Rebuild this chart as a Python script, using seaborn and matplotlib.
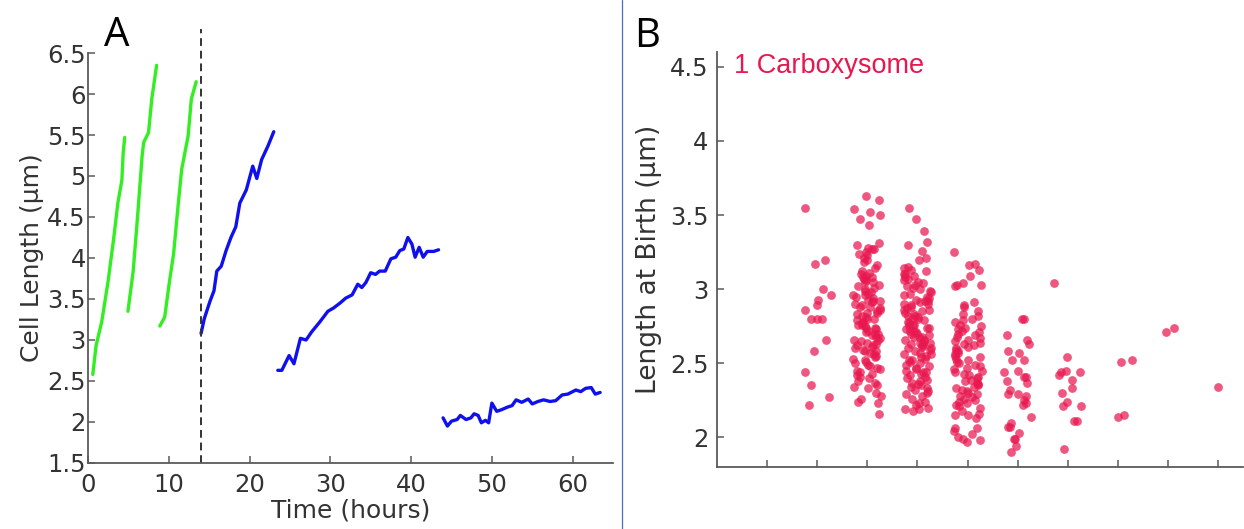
import numpy as np
import pandas as pd
import matplotlib
matplotlib.use('Agg')
import matplotlib.pyplot as plt
from matplotlib.lines import Line2D
import seaborn as sns

# Panel A: cell length traces (time in hours, length in um)
green1Time = [0.6, 1.0, 1.7, 2.5, 3.2, 3.7, 4.2, 4.36, 4.55]
green1Len = [2.58, 2.93, 3.22, 3.72, 4.25, 4.67, 4.95, 5.28, 5.47]
green2Time = [4.95, 5.6, 6.2, 6.7, 6.9, 7.5, 7.9, 8.5]
green2Len = [3.35, 3.84, 4.58, 5.24, 5.41, 5.53, 5.94, 6.35]
green3Time = [8.9, 9.5, 10.1, 10.6, 11.1, 11.6, 12.4, 12.8, 13.4]
green3Len = [3.17, 3.28, 3.72, 4.05, 4.58, 5.08, 5.49, 5.94, 6.15]
blue1Time = [14.0, 14.4, 15.1, 15.6, 15.95, 16.5, 17.1, 17.7, 18.3, 18.8, 19.6,
             20.4, 20.9, 21.5, 22.3, 23.0]
blue1Len = [3.08, 3.26, 3.47, 3.60, 3.84, 3.90, 4.09, 4.25, 4.38, 4.67, 4.83,
            5.12, 4.97, 5.20, 5.37, 5.54]
blue2Time = [23.5, 24.0, 24.9, 25.5, 26.3, 27.0, 27.7, 28.7, 29.7, 30.4, 31.2,
             31.9, 32.7, 33.4, 33.9, 34.4, 35.0, 35.6, 36.1, 36.8, 37.5, 38.1,
             38.6, 39.1, 39.6, 40.1, 40.5, 41.0, 41.5, 42.0, 42.8, 43.4]
blue2Len = [2.63, 2.63, 2.81, 2.71, 3.02, 3.00, 3.10, 3.22, 3.35, 3.39, 3.45,
            3.51, 3.55, 3.68, 3.64, 3.70, 3.82, 3.80, 3.84, 3.84, 3.99, 4.01,
            4.09, 4.11, 4.25, 4.17, 4.01, 4.13, 4.01, 4.08, 4.08, 4.10]
blue3Time = [43.96, 44.5, 45.0, 45.7, 46.1, 46.8, 47.4, 47.8, 48.3, 48.7, 49.2,
             49.6, 50.0, 50.6, 51.2, 51.9, 52.5, 53.0, 53.7, 54.5, 55.0, 55.7,
             56.4, 57.2, 57.9, 58.7, 59.4, 60.4, 61.0, 61.6, 62.3, 62.8, 63.4]
blue3Len = [2.05, 1.95, 2.01, 2.03, 2.08, 2.03, 2.05, 2.10, 2.08, 1.99, 2.02,
            1.99, 2.23, 2.13, 2.15, 2.18, 2.20, 2.27, 2.24, 2.28, 2.22, 2.25,
            2.27, 2.25, 2.26, 2.33, 2.34, 2.39, 2.37, 2.41, 2.42, 2.34, 2.36]
switchTime = 14

# Panel B: length at birth per category position
birthCol2 = [3.55, 3.20, 3.17, 3.00, 2.96, 2.93, 2.89, 2.86, 2.80, 2.80, 2.80,
             2.66, 2.58, 2.44, 2.35, 2.27, 2.22]
birthCol3 = [3.63, 3.60, 3.54, 3.52, 3.50, 3.47, 3.43, 3.31, 3.30, 3.28, 3.27,
             3.27, 3.25, 3.24, 3.23, 3.21, 3.20, 3.18, 3.16, 3.14, 3.12, 3.11,
             3.10, 3.09, 3.08, 3.08, 3.07, 3.06, 3.05, 3.05, 3.03, 3.02, 3.01,
             3.00, 2.99, 2.98, 2.97, 2.96, 2.96, 2.95, 2.94, 2.93, 2.92, 2.92,
             2.91, 2.90, 2.89, 2.88, 2.88, 2.87, 2.86, 2.85, 2.84, 2.84, 2.83,
             2.82, 2.81, 2.80, 2.80, 2.79, 2.78, 2.77, 2.76, 2.76, 2.75, 2.74,
             2.74, 2.73, 2.72, 2.71, 2.70, 2.70, 2.69, 2.68, 2.67, 2.66, 2.66,
             2.65, 2.64, 2.63, 2.62, 2.62, 2.61, 2.60, 2.59, 2.58, 2.58, 2.57,
             2.56, 2.55, 2.54, 2.53, 2.52, 2.51, 2.50, 2.49, 2.48, 2.47, 2.46,
             2.45, 2.44, 2.43, 2.42, 2.41, 2.40, 2.38, 2.37, 2.35, 2.34, 2.33,
             2.30, 2.28, 2.26, 2.24, 2.23, 2.16]
birthCol4 = [3.55, 3.47, 3.39, 3.32, 3.30, 3.26, 3.21, 3.20, 3.15, 3.14, 3.13,
             3.12, 3.10, 3.10, 3.09, 3.08, 3.07, 3.06, 3.05, 3.04, 3.03, 3.02,
             3.01, 3.00, 2.99, 2.98, 2.97, 2.96, 2.95, 2.94, 2.93, 2.92, 2.92,
             2.91, 2.90, 2.90, 2.89, 2.88, 2.87, 2.86, 2.86, 2.85, 2.84, 2.83,
             2.82, 2.82, 2.81, 2.80, 2.80, 2.79, 2.78, 2.77, 2.76, 2.76, 2.75,
             2.74, 2.74, 2.73, 2.72, 2.72, 2.71, 2.70, 2.70, 2.69, 2.68, 2.68,
             2.67, 2.66, 2.66, 2.65, 2.64, 2.64, 2.63, 2.62, 2.62, 2.61, 2.60,
             2.60, 2.59, 2.58, 2.57, 2.56, 2.56, 2.55, 2.54, 2.53, 2.52, 2.52,
             2.51, 2.50, 2.49, 2.48, 2.47, 2.46, 2.45, 2.44, 2.44, 2.43, 2.42,
             2.41, 2.40, 2.39, 2.38, 2.37, 2.36, 2.35, 2.34, 2.33, 2.32, 2.31,
             2.30, 2.29, 2.28, 2.26, 2.24, 2.23, 2.22, 2.20, 2.19, 2.19, 2.18]
birthCol5 = [3.25, 3.17, 3.16, 3.13, 3.09, 3.04, 3.03, 3.03, 3.02, 2.91, 2.89,
             2.88, 2.85, 2.83, 2.82, 2.80, 2.79, 2.78, 2.76, 2.75, 2.74, 2.73,
             2.72, 2.71, 2.70, 2.69, 2.68, 2.67, 2.66, 2.65, 2.64, 2.63, 2.62,
             2.61, 2.60, 2.59, 2.58, 2.57, 2.56, 2.55, 2.54, 2.53, 2.52, 2.51,
             2.50, 2.49, 2.48, 2.47, 2.46, 2.45, 2.44, 2.43, 2.42, 2.41, 2.40,
             2.39, 2.38, 2.37, 2.36, 2.35, 2.34, 2.33, 2.32, 2.31, 2.30, 2.29,
             2.28, 2.27, 2.26, 2.25, 2.24, 2.23, 2.22, 2.21, 2.20, 2.18, 2.16,
             2.15, 2.15, 2.13, 2.06, 2.06, 2.04, 2.02, 2.00, 1.99, 1.98, 1.97]
birthCol6 = [2.80, 2.80, 2.69, 2.66, 2.63, 2.58, 2.57, 2.52, 2.52, 2.44, 2.45,
             2.41, 2.41, 2.38, 2.37, 2.32, 2.28, 2.29, 2.29, 2.25, 2.23, 2.22,
             2.14, 2.10, 2.07, 2.07, 2.03, 1.99, 1.99, 1.94, 1.90]
birthCol7 = [3.04, 2.54, 2.44, 2.45, 2.44, 2.42, 2.39, 2.33, 2.30, 2.24, 2.21,
             2.21, 2.11, 2.11, 1.92]
birthCol8 = [2.52, 2.51, 2.14, 2.15]
birthCol9 = [2.71, 2.74]
birthCol10 = [2.34]
birthColumns = [2, 3, 4, 5, 6, 7, 8, 9, 10]
birthValues = [birthCol2, birthCol3, birthCol4, birthCol5, birthCol6,
               birthCol7, birthCol8, birthCol9, birthCol10]

birthDf = pd.concat(
    [pd.DataFrame({'group': col, 'length': vals})
     for col, vals in zip(birthColumns, birthValues)],
    ignore_index=True)

sns.set_style('ticks')
plt.rcParams['font.family'] = ['DejaVu Sans']
axisGray = '#5a5a5a'
textGray = '#333333'
pink = '#e8174f'

fig = plt.figure(figsize=(12.44, 5.29), dpi=100)
axA = fig.add_axes([0.0707, 0.1248, 0.4221, 0.775])
axB = fig.add_axes([0.5764, 0.1172, 0.4228, 0.7845])

# --- Panel A
traces = [
    (green1Time, green1Len, '#33ee22'),
    (green2Time, green2Len, '#33ee22'),
    (green3Time, green3Len, '#33ee22'),
    (blue1Time, blue1Len, '#1010ee'),
    (blue2Time, blue2Len, '#1010ee'),
    (blue3Time, blue3Len, '#1010ee'),
]
for t, l, c in traces:
    sns.lineplot(x=t, y=l, color=c, linewidth=2.4, sort=False, ax=axA,
                 estimator=None)
axA.plot([switchTime, switchTime], [1.5, 6.79], color='#333333', lw=1.4,
         linestyle=(0, (4, 2.5)), clip_on=False)

axA.set_xlim(0, 65)
axA.set_ylim(1.5, 6.5)
axA.set_xticks([0, 10, 20, 30, 40, 50, 60])
axA.set_yticks([1.5, 2, 2.5, 3, 3.5, 4, 4.5, 5, 5.5, 6, 6.5])
axA.set_yticklabels(['1.5', '2', '2.5', '3', '3.5', '4', '4.5', '5', '5.5',
                     '6', '6.5'])
axA.set_xlabel('Time (hours)', fontsize=18, color=textGray, labelpad=1)
axA.set_ylabel('Cell Length (µm)', fontsize=18, color=textGray, labelpad=2)
axA.tick_params(axis='both', direction='in', length=5, width=1.1,
                color=axisGray, labelsize=17.5, labelcolor=textGray)
axA.tick_params(axis='y', pad=1.5)
axA.tick_params(axis='x', pad=7)

# --- Panel B
np.random.seed(7)
sns.stripplot(data=birthDf, x='group', y='length', native_scale=True,
              jitter=0.28, color=pink, alpha=0.72, size=6.3, linewidth=0,
              ax=axB)
axB.set_xlim(0, 10.5)
axB.set_ylim(1.8, 4.6)
axB.set_xticks(range(1, 11))
axB.set_xticklabels([])
axB.set_xlabel('')
axB.set_yticks([2, 2.5, 3, 3.5, 4, 4.5])
axB.set_yticklabels(['2', '2.5', '3', '3.5', '4', '4.5'])
axB.set_ylabel('Length at Birth (µm)', fontsize=19, color=textGray,
               labelpad=6)
axB.tick_params(axis='both', direction='in', length=5, width=1.1,
                color=axisGray, labelsize=17.5, labelcolor=textGray, pad=6)
axB.text(0.34, 4.46, '1 Carboxysome', color=pink, fontsize=19.5,
         family=['Liberation Sans', 'DejaVu Sans'], va='baseline', ha='left')

for ax in (axA, axB):
    sns.despine(ax=ax)
    for side in ('left', 'bottom'):
        ax.spines[side].set_color(axisGray)
        ax.spines[side].set_linewidth(1.3)

# panel letters and separator
fig.text(0.084, 0.913, 'A', fontsize=29, color='black', va='baseline',
         family=['Open Sans', 'DejaVu Sans'])
fig.text(0.5096, 0.911, 'B', fontsize=29, color='black', va='baseline',
         family=['Open Sans', 'DejaVu Sans'])
fig.add_artist(Line2D([0.5, 0.5], [0, 1], transform=fig.transFigure,
                      color='#4a6fc4', lw=0.9))

fig.savefig('out.png', dpi=100)
